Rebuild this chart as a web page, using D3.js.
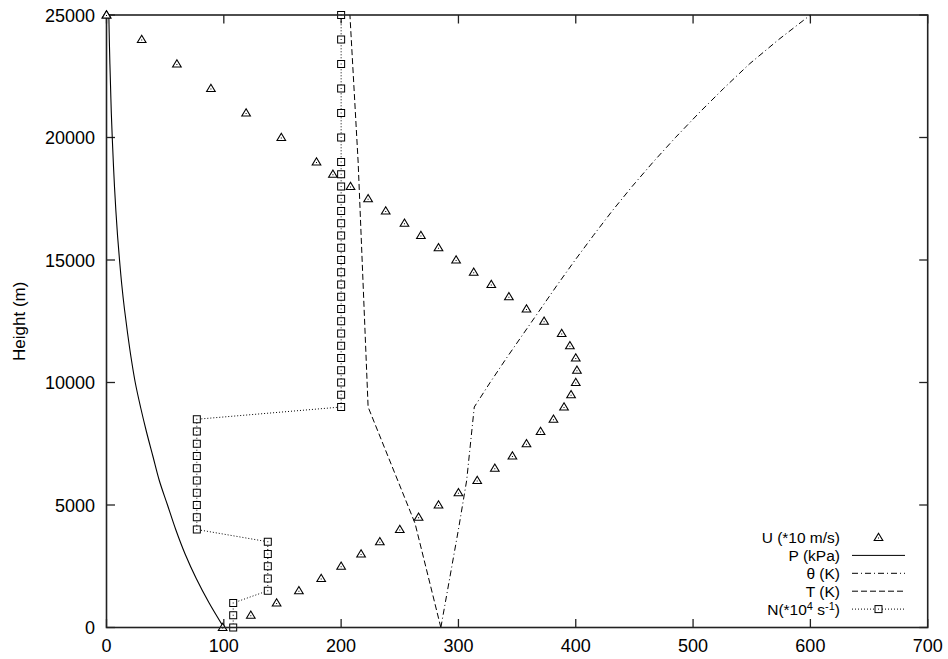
<!DOCTYPE html>
<html><head><meta charset="utf-8">
<script src="https://cdn.jsdelivr.net/npm/d3@7"></script>
<style>
body{margin:0;background:#fff;}
text{font-family:"Liberation Sans",Arial,Helvetica,sans-serif;fill:#000;}
</style></head>
<body><svg id="c" width="948" height="659"></svg>
<script>
// ---- data ----
const heights = [0,500,1000,1500,2000,2500,3000,3500,4000,4500,5000,5500,6000,6500,7000,7500,8000,8500,9000,9500,10000,10500,11000,11500,12000,12500,13000,13500,14000,14500,15000,15500,16000,16500,17000,17500,18000,18500,19000,20000,21000,22000,23000,24000,25000];
const uValues = [99,123,145,164,183,200,217,233,250,266,283,300,316,331,346,358,370,381,390,396,400,401,400,395,388,373,358,343,328,313,298,283,268,254,238,223,208,193,179,149,119,89,60,30,0];
const nValues = [108,108,108,137.5,137.5,137.5,137.5,137.5,77,77,77,77,77,77,77,77,77,77,200,200,200,200,200,200,200,200,200,200,200,200,200,200,200,200,200,200,200,200,200,200,200,200,200,200,200];
const pHeights = [0,1000,2000,3000,4000,5000,6000,7000,8000,9000,10000,11000,12000,13000,14000,15000,16000,17000,18000,19000,20000,21000,22000,23000,24000,25000];
const pValues = [100,87.5,76.5,67,59,52,45,39.5,34,29,24.5,21,18,15.3,13,11.1,9.4,8,6.8,5.8,4.9,4.1,3.5,2.9,2.4,2.0];
const thetaHeights = [0,2000,4000,6000,9000,10000,11000,12000,13000,14000,15000,16000,17000,18000,19000,20000,21000,22000,23000,24000,25000];
const thetaValues = [285,292.5,300,307,313.5,327,341,355.5,370,384.5,399.5,415,431,448,466,485,505,526,548,573,600];
const tHeights = [0,4250,9000,19000,25000];
const tValues = [285,263,223,214.5,207.5];
const xTicks = [0,100,200,300,400,500,600,700];
const yTicks = [0,5000,10000,15000,20000,25000];
const legendLabels = ["U (*10 m/s)","P (kPa)","θ (K)","T (K)","N"];

// ---- layout ----
const svg = d3.select("#c");
const L=106.5, R=927.7, T=15, B=627.5;
const x = d3.scaleLinear().domain([0,700]).range([L,R]);
const y = d3.scaleLinear().domain([0,25000]).range([B,T]);

svg.append("rect").attr("width",948).attr("height",659).attr("fill","#fff");

const axisCol="#222";
const tl=8.5;
const gt = svg.append("g").attr("stroke",axisCol).attr("stroke-width",1.3);
xTicks.forEach(v=>{
  gt.append("line").attr("x1",x(v)).attr("x2",x(v)).attr("y1",B).attr("y2",B-tl);
  gt.append("line").attr("x1",x(v)).attr("x2",x(v)).attr("y1",T).attr("y2",T+tl);
});
yTicks.forEach(v=>{
  gt.append("line").attr("x1",L).attr("x2",L+tl).attr("y1",y(v)).attr("y2",y(v));
  gt.append("line").attr("x1",R).attr("x2",R-tl).attr("y1",y(v)).attr("y2",y(v));
});
const gl = svg.append("g").style("font-size","18px");
xTicks.forEach(v=>{
  gl.append("text").attr("x",x(v)).attr("y",652).attr("text-anchor","middle").text(v);
});
yTicks.forEach(v=>{
  gl.append("text").attr("x",95).attr("y",y(v)+6.5).attr("text-anchor","end").text(v);
});
svg.append("text").attr("transform",`translate(25,${(T+B)/2}) rotate(-90)`)
  .attr("text-anchor","middle").style("font-size","17px").text("Height (m)");

// ---- series ----
const line = d3.line().x(d=>x(d[0])).y(d=>y(d[1]));
const pData = pHeights.map((h,i)=>[pValues[i],h]);
const thData = thetaHeights.map((h,i)=>[thetaValues[i],h]);
const tData = tHeights.map((h,i)=>[tValues[i],h]);
const nData = heights.map((h,i)=>[nValues[i],h]);
const uData = heights.map((h,i)=>[uValues[i],h]);

svg.append("path").attr("d",d3.line().x(d=>x(d[0])).y(d=>y(d[1])).curve(d3.curveMonotoneY)(pData))
  .attr("fill","none").attr("stroke","#000").attr("stroke-width",1.1);
svg.append("path").attr("d",line(thData))
  .attr("fill","none").attr("stroke","#000").attr("stroke-width",1).attr("stroke-dasharray","6,3,1,3");
svg.append("path").attr("d",line(tData))
  .attr("fill","none").attr("stroke","#000").attr("stroke-width",1).attr("stroke-dasharray","6,3");
svg.append("path").attr("d",line(nData))
  .attr("fill","none").attr("stroke","#000").attr("stroke-width",1).attr("stroke-dasharray","1,2");

function square(g,cx,cy){
  g.append("rect").attr("x",cx-3.5).attr("y",cy-3.5).attr("width",7).attr("height",7)
   .attr("fill","#fff").attr("stroke","#000").attr("stroke-width",1);
  g.append("rect").attr("x",cx-0.5).attr("y",cy-0.5).attr("width",1).attr("height",1).attr("fill","#000");
}
function tri(g,cx,cy){
  g.append("path").attr("d",`M${cx},${cy-4.2}L${cx+4.3},${cy+3}L${cx-4.3},${cy+3}Z`)
   .attr("fill","#fff").attr("stroke","#000").attr("stroke-width",1.1);
  g.append("rect").attr("x",cx-0.5).attr("y",cy).attr("width",1).attr("height",1).attr("fill","#000");
}
const gm = svg.append("g");
nData.forEach(d=>square(gm,x(d[0]),y(d[1])));
uData.forEach(d=>tri(gm,x(d[0]),y(d[1])));

svg.append("rect").attr("x",L).attr("y",T).attr("width",R-L).attr("height",B-T)
  .attr("fill","none").attr("stroke",axisCol).attr("stroke-width",1.6);
tri(svg,x(uData[uData.length-1][0]),y(uData[uData.length-1][1]));

// ---- legend ----
const lg = svg.append("g").style("font-size","15.5px");
const ly0=537.5, ldy=17.9, tx=840, sx1=852, sx2=905;
legendLabels.forEach((lab,i)=>{
  const yy = ly0+i*ldy;
  const t = lg.append("text").attr("x",tx).attr("y",yy+5.5).attr("text-anchor","end");
  if(i===4){
    t.append("tspan").text("N(*10");
    t.append("tspan").attr("dy",-5).style("font-size","11px").text("4");
    t.append("tspan").attr("dy",5).text(" s");
    t.append("tspan").attr("dy",-5).style("font-size","11px").text("-1");
    t.append("tspan").attr("dy",5).text(")");
  } else t.text(lab);
  const dash = [null,null,"6,3,1,3","6,3","1,2"][i];
  if(i>0){
    lg.append("line").attr("x1",sx1).attr("x2",sx2).attr("y1",yy).attr("y2",yy)
      .attr("stroke","#000").attr("stroke-width",1).attr("stroke-dasharray",dash);
  }
  if(i===0) tri(lg,(sx1+sx2)/2,yy);
  if(i===4) square(lg,(sx1+sx2)/2,yy);
});
</script></body></html>
